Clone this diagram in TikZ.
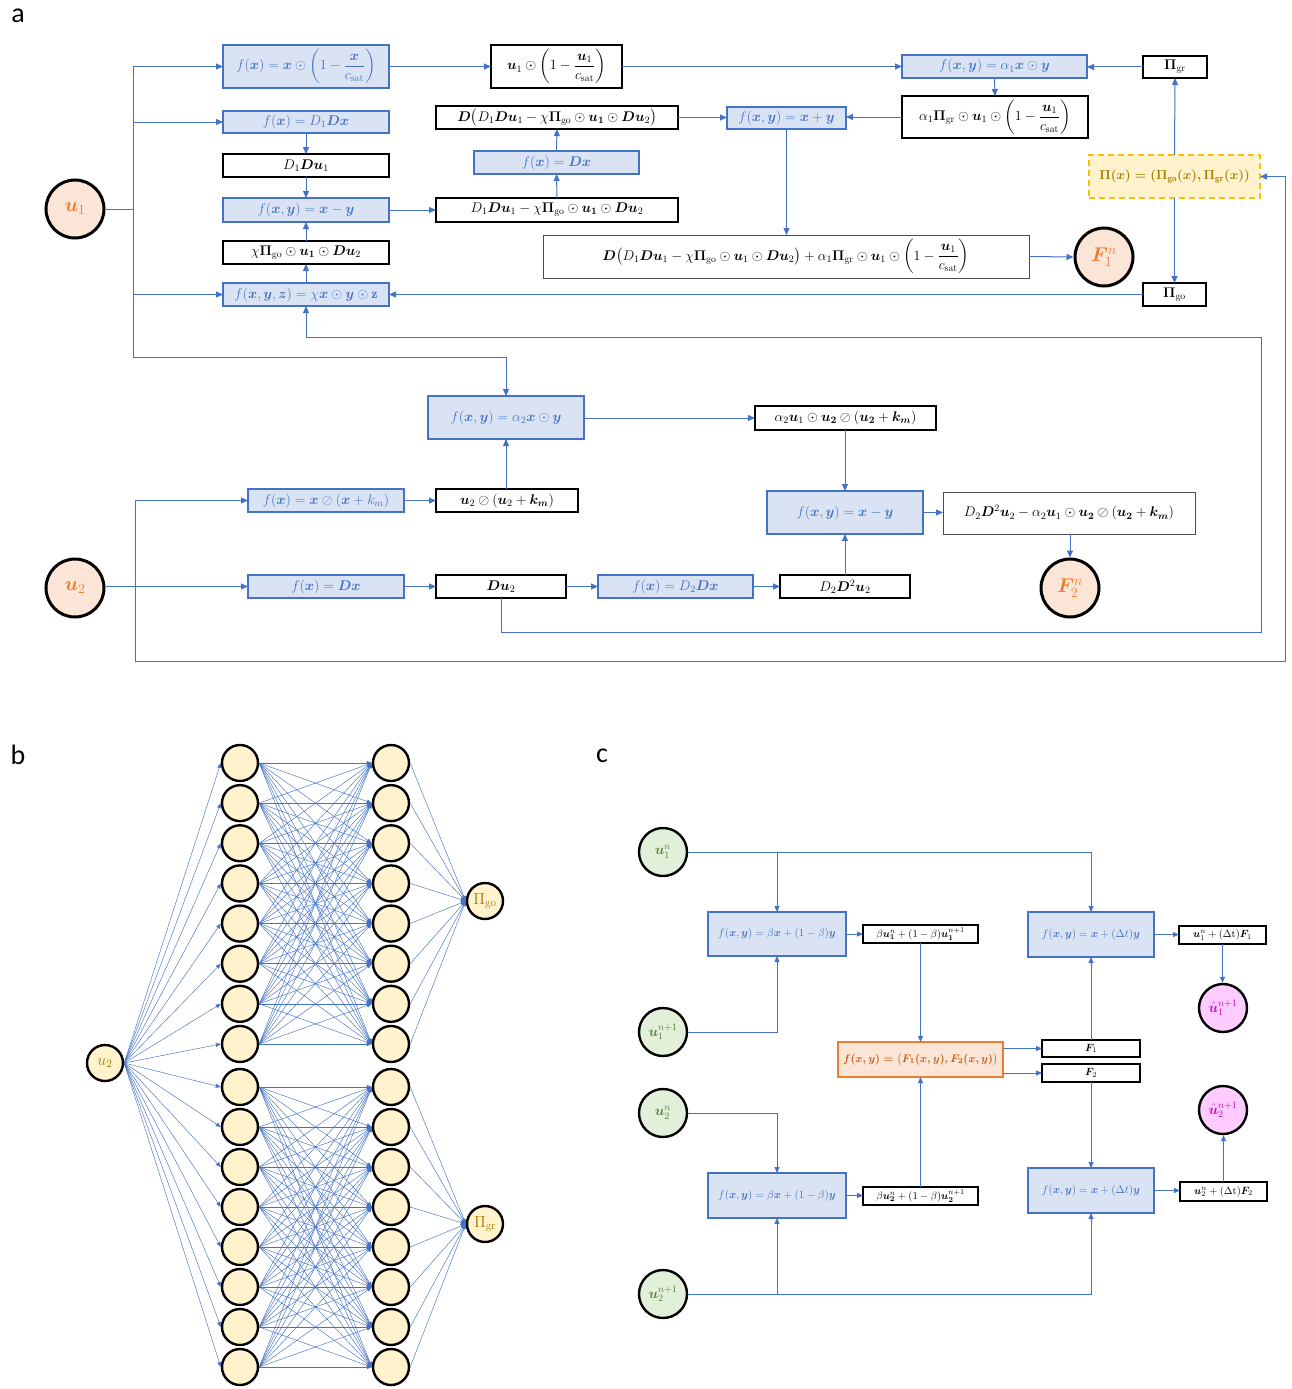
\RequirePackage{fix-cm}
\documentclass[tikz,border=0pt]{standalone}
\usepackage{amsmath}
\usepackage{bm}
\usepackage{fontspec}
\newfontfamily\labfont{Carlito}
\usetikzlibrary{arrows.meta}
\definecolor{bl}{HTML}{4472C4}
\definecolor{blfill}{HTML}{DAE3F3}
\definecolor{orfill}{HTML}{FBE5D6}
\definecolor{ortext}{HTML}{ED7D31}
\definecolor{orbtext}{HTML}{C55A11}
\definecolor{ylfill}{HTML}{FFF2CC}
\definecolor{yldraw}{HTML}{FFC000}
\definecolor{yltext}{HTML}{A67C00}
\definecolor{grfill}{HTML}{E2F0D9}
\definecolor{grtext}{HTML}{548235}
\definecolor{pkfill}{HTML}{FFCCFF}
\definecolor{pktext}{HTML}{CC00CC}
\newcommand\fsA{\fontsize{14}{16}\selectfont}
\newcommand\fsC{\fontsize{11}{13}\selectfont}
\newcommand\bx[7]{\node[#1, minimum width={#5-#3}, minimum height={#6-#4}] (#2) at ({(#3+#5)/2},{(#4+#6)/2}) {#7};}
\begin{document}
\begin{tikzpicture}[x=1pt,y=-1pt,
  ln/.style={draw=bl, line width=1pt},
  arr/.style={ln, -{Triangle[length=7pt,width=6pt]}},
  carr/.style={draw=bl, line width=0.8pt, -{Triangle[length=6pt,width=5pt]}},
  narr/.style={draw=bl, line width=0.45pt, -{Triangle[length=5pt,width=4pt]}},
  fbox/.style={draw=bl, fill=blfill, line width=1.2pt, text=bl, inner sep=0pt, outer sep=0pt, font=\fsA},
  wbox/.style={draw=black, fill=white, line width=1.1pt, inner sep=0pt, outer sep=0pt, font=\fsA},
  gbox/.style={draw=black!70, fill=white, line width=0.8pt, inner sep=0pt, outer sep=0pt, font=\fsA},
  ybox/.style={draw=yldraw, fill=ylfill, line width=1.5pt, dash pattern=on 6pt off 4pt, text=yltext, inner sep=0pt, outer sep=0pt, font=\fontsize{13}{15}\selectfont\boldmath},
  cfbox/.style={fbox, font=\fsC},
  cwbox/.style={wbox, font=\fontsize{10.5}{12}\selectfont},
  obox/.style={draw=ortext, fill=orfill, line width=1.2pt, text=orbtext, inner sep=0pt, outer sep=0pt, font=\fsC\boldmath},
  ocirc/.style={circle, draw=black, line width=3pt, fill=orfill, text=ortext, minimum size=58pt, inner sep=0pt, font=\fontsize{20}{22}\selectfont},
  gcirc/.style={circle, draw=black, line width=2.4pt, fill=grfill, text=grtext, minimum size=48pt, inner sep=0pt, font=\fontsize{14}{16}\selectfont},
  pcirc/.style={gcirc, fill=pkfill, text=pktext},
  nn/.style={circle, draw=black, line width=2.4pt, fill=ylfill, text=yltext, minimum size=36pt, inner sep=0pt, font=\fontsize{16}{18}\selectfont},
  lab/.style={font=\labfont\fontsize{28}{30}\selectfont, inner sep=0pt}
]
\fill[white] (0,0) rectangle (1292,1389);
\useasboundingbox (0,0) rectangle (1292,1389);

% panel labels
\node[lab] (la) at (18,16) {a};
\node[lab] (lb) at (18,755) {b};
\node[lab] (lc) at (602,756) {c};

% ================= panel a =================
\node[ocirc] (u1) at (75,209) {$\bm{u}_1$};
\node[ocirc] (u2) at (75,588) {$\bm{u}_2$};
\node[ocirc] (F1) at (1104,257) {$\bm{F}_1^n$};
\node[ocirc] (F2) at (1070,588) {$\bm{F}_2^n$};

\bx{fbox}{A1}{223}{45}{389}{88}{$f(\bm{x})=\bm{x}\odot\left(1-\dfrac{\bm{x}}{c_{\mathrm{sat}}}\right)$}
\bx{fbox}{A2}{223}{111}{389}{133}{$f(\bm{x})=D_1\bm{D}\bm{x}$}
\bx{wbox}{A3}{223}{154}{389}{177}{$D_1\bm{D}\bm{u}_1$}
\bx{fbox}{A4}{223}{198}{389}{222}{$f(\bm{x},\bm{y})=\bm{x}-\bm{y}$}
\bx{wbox}{A5}{223}{241}{389}{264}{$\chi\bm{\Pi}_{\mathrm{go}}\odot\bm{u}_{\bm{1}}\odot\bm{D}\bm{u}_2$}
\bx{fbox}{A6}{223}{283}{389}{306}{$f(\bm{x},\bm{y},\bm{z})=\chi\bm{x}\odot\bm{y}\odot\mathbf{z}$}

\bx{wbox}{B1}{491}{45}{622}{88}{$\bm{u}_1\odot\left(1-\dfrac{\bm{u}_1}{c_{\mathrm{sat}}}\right)$}
\bx{wbox}{B2}{436}{106}{678}{129}{$\bm{D}\bigl(D_1\bm{D}\bm{u}_1-\chi\bm{\Pi}_{\mathrm{go}}\odot\bm{u}_{\bm{1}}\odot\bm{D}\bm{u}_2\bigr)$}
\bx{fbox}{BDx}{474}{151}{639}{174}{$f(\bm{x})=\bm{D}\bm{x}$}
\bx{wbox}{B3}{436}{198}{678}{222}{$D_1\bm{D}\bm{u}_1-\chi\bm{\Pi}_{\mathrm{go}}\odot\bm{u}_{\bm{1}}\odot\bm{D}\bm{u}_2$}
\bx{fbox}{Bplus}{727}{107}{846}{129}{$f(\bm{x},\bm{y})=\bm{x}+\bm{y}$}
\bx{gbox}{Bsum}{543}{235}{1029}{278}{$\bm{D}\bigl(D_1\bm{D}\bm{u}_1-\chi\bm{\Pi}_{\mathrm{go}}\odot\bm{u}_1\odot\bm{D}\bm{u}_2\bigr)+\alpha_1\bm{\Pi}_{\mathrm{gr}}\odot\bm{u}_1\odot\left(1-\dfrac{\bm{u}_1}{c_{\mathrm{sat}}}\right)$}
\bx{fbox}{C1}{902}{55}{1087}{78}{$f(\bm{x},\bm{y})=\alpha_1\bm{x}\odot\bm{y}$}
\bx{wbox}{C2}{902}{96}{1088}{138}{$\alpha_1\bm{\Pi}_{\mathrm{gr}}\odot\bm{u}_1\odot\left(1-\dfrac{\bm{u}_1}{c_{\mathrm{sat}}}\right)$}
\bx{wbox}{Pgr}{1143}{56}{1207}{78}{$\bm{\Pi}_{\mathrm{gr}}$}
\bx{ybox}{Ylw}{1089}{155}{1260}{198}{$\Pi(x)=(\Pi_{\mathrm{go}}(x),\Pi_{\mathrm{gr}}(x))$}
\bx{wbox}{Pgo}{1143}{283}{1206}{306}{$\bm{\Pi}_{\mathrm{go}}$}

\bx{fbox}{Al2}{428}{396}{584}{439}{$f(\bm{x},\bm{y})=\alpha_2\bm{x}\odot\bm{y}$}
\bx{wbox}{Al2u}{755}{406}{936}{430}{$\alpha_2\bm{u}_1\odot\bm{u}_{\bm{2}}\oslash(\bm{u}_{\bm{2}}+\bm{k}_{\bm{m}})$}
\bx{fbox}{Xosl}{248}{489}{404}{512}{$f(\bm{x})=\bm{x}\oslash(\bm{x}+k_m)$}
\bx{wbox}{Uosl}{436}{489}{578}{512}{$\bm{u}_2\oslash(\bm{u}_2+\bm{k}_{\bm{m}})$}
\bx{fbox}{XmY}{767}{491}{923}{534}{$f(\bm{x},\bm{y})=\bm{x}-\bm{y}$}
\bx{gbox}{Big2}{943}{492}{1195}{534}{$D_2\bm{D}^2\bm{u}_2-\alpha_2\bm{u}_1\odot\bm{u}_{\bm{2}}\oslash(\bm{u}_{\bm{2}}+\bm{k}_{\bm{m}})$}
\bx{fbox}{FDx}{248}{575}{404}{598}{$f(\bm{x})=\bm{D}\bm{x}$}
\bx{wbox}{Du2}{436}{575}{566}{598}{$\bm{D}\bm{u}_2$}
\bx{fbox}{FDDx}{598}{575}{753}{598}{$f(\bm{x})=D_2\bm{D}\bm{x}$}
\bx{wbox}{DDu}{780}{575}{910}{598}{$D_2\bm{D}^2\bm{u}_2$}

% helper coordinates
\coordinate (bT) at (133,66.5);
\coordinate (bB) at (133,357);
\coordinate (jn) at (135,586.5);
\coordinate (oR) at (1285,661);
\coordinate (iR) at (1261,632);
\coordinate (iT) at (1261,337);

% bus from u1
\draw[ln] (u1.east) -- (u1.east -| bT);
\draw[arr] (bT) -- (A1.west);
\draw[arr] (bT |- A2.west) -- (A2.west);
\draw[arr] (bT |- A6.west) -- (A6.west);
\draw[arr] (bT) -- (bB) -| (Al2.north);

\draw[arr] (A2.south) -- (A3.north);
\draw[arr] (A3.south) -- (A4.north);
\draw[arr] (A5.north) -- (A4.south);
\draw[arr] (A6.north) -- (A5.south);
\draw[arr] (A1.east) -- (B1.west);
\draw[arr] (B1.east) -- (C1.west);
\draw[arr] (Pgr.west) -- (Pgr.west -| C1.east);
\draw[arr] (C1.south) -- (C2.north);
\draw[arr] (C2.west) -- (C2.west -| Bplus.east);
\draw[arr] (B2.east) -- (B2.east -| Bplus.west);
\draw[arr] (BDx.north) -- (B2.south);
\draw[arr] (B3.north) -- (BDx.south);
\draw[arr] (A4.east) -- (B3.west);
\draw[arr] (Bplus.south) -- (Bplus.south |- Bsum.north);
\draw[arr] (Bsum.east) -- (F1.west);
\draw[arr] (Ylw.north) -- (Pgr.south);
\draw[arr] (Ylw.south) -- (Pgo.north);
\draw[arr] (Pgo.west) -- (A6.east);

% u2 part
\draw[arr] (u2.east |- FDx.west) -- (FDx.west);
\draw[arr] (jn) |- (Xosl.west);
\draw[arr] (jn) |- (oR) |- (Ylw.east);
\draw[arr] (Xosl.east) -- (Uosl.west);
\draw[arr] (Uosl.north -| Al2.south) -- (Al2.south);
\draw[arr] (Al2.east |- Al2u.west) -- (Al2u.west);
\draw[arr] (Al2u.south -| XmY.north) -- (XmY.north);
\draw[arr] (XmY.east) -- (XmY.east -| Big2.west);
\draw[arr] (Big2.south -| F2.north) -- (F2.north);
\draw[arr] (FDx.east) -- (Du2.west);
\draw[arr] (Du2.east) -- (FDDx.west);
\draw[arr] (FDDx.east) -- (DDu.west);
\draw[arr] (DDu.north -| XmY.south) -- (XmY.south);
\draw[arr] (Du2.south) |- (iR) -- (iT) -| (A6.south);

% ================= panel b =================
\node[nn] (ib) at (105,1063) {$u_2$};
\node[nn] (go) at (485,901) {$\Pi_{\mathrm{go}}$};
\node[nn] (gr) at (485,1224) {$\Pi_{\mathrm{gr}}$};
\foreach \i in {1,...,8} {
  \pgfmathsetmacro\ya{763+(\i-1)*40.14}
  \pgfmathsetmacro\yb{1087+(\i-1)*40}
  \node[nn] (p\i) at (240,\ya) {};
  \node[nn] (q\i) at (391,\ya) {};
  \node[nn] (r\i) at (240,\yb) {};
  \node[nn] (s\i) at (391,\yb) {};
}
\foreach \i in {1,...,8} {
  \draw[narr] (ib.east) -- (p\i.west);
  \draw[narr] (ib.east) -- (r\i.west);
  \draw[narr] (q\i.east) -- (go.west);
  \draw[narr] (s\i.east) -- (gr.west);
  \foreach \j in {1,...,8} {
    \draw[narr] (p\i.east) -- (q\j.west);
    \draw[narr] (r\i.east) -- (s\j.west);
  }
}

% ================= panel c =================
\node[gcirc] (cu1n) at (663,852) {$\bm{u}_1^n$};
\node[gcirc] (cu1p) at (663,1032) {$\bm{u}_1^{n+1}$};
\node[gcirc] (cu2n) at (663,1113) {$\bm{u}_2^n$};
\node[gcirc] (cu2p) at (663,1294) {$\bm{u}_2^{n+1}$};
\node[pcirc] (uh1) at (1223,1008) {$\hat{\bm{u}}_1^{n+1}$};
\node[pcirc] (uh2) at (1223,1110) {$\hat{\bm{u}}_2^{n+1}$};

\bx{cfbox}{c1}{708}{912}{846}{956}{$f(\bm{x},\bm{y})=\beta\bm{x}+(1-\beta)\bm{y}$}
\bx{cwbox}{c2}{863}{925}{978}{943}{$\beta\bm{u}_{\bm{1}}^n+(1-\beta)\bm{u}_{\bm{1}}^{n+1}$}
\bx{obox}{ob}{838}{1042}{1003}{1077}{$f(x,y)=\bigl(F_1(x,y),F_2(x,y)\bigr)$}
\bx{cwbox}{F1b}{1042}{1040}{1140}{1057}{$\bm{F}_1$}
\bx{cwbox}{F2b}{1042}{1064}{1140}{1082}{$\bm{F}_2$}
\bx{cfbox}{c3}{1028}{912}{1154}{957}{$f(\bm{x},\bm{y})=\bm{x}+(\Delta t)\bm{y}$}
\bx{cwbox}{c4}{1179}{926}{1266}{944}{$\bm{u}_1^n+(\Delta\mathrm{t})\bm{F}_1$}
\bx{cfbox}{c5}{1028}{1168}{1154}{1213}{$f(\bm{x},\bm{y})=\bm{x}+(\Delta t)\bm{y}$}
\bx{cwbox}{c6}{1180}{1182}{1267}{1201}{$\bm{u}_2^n+(\Delta\mathrm{t})\bm{F}_2$}
\bx{cfbox}{c7}{708}{1173}{846}{1218}{$f(\bm{x},\bm{y})=\beta\bm{x}+(1-\beta)\bm{y}$}
\bx{cwbox}{c8}{863}{1187}{978}{1205}{$\beta\bm{u}_{\bm{2}}^n+(1-\beta)\bm{u}_{\bm{2}}^{n+1}$}

\draw[carr] (cu1n.east) -| (c3.north);
\draw[carr] (cu1n.east -| c1.north) -- (c1.north);
\draw[carr] (cu1p.east) -| (c1.south);
\draw[carr] (c1.east) -- (c2.west);
\draw[carr] (c2.south) -- (ob.north);
\draw[carr] (c8.north) -- (ob.south);
\draw[carr] (ob.east |- F1b.west) -- (F1b.west);
\draw[carr] (ob.east |- F2b.west) -- (F2b.west);
\draw[carr] (F1b.north) -- (c3.south);
\draw[carr] (F2b.south) -- (c5.north);
\draw[carr] (c3.east) -- (c3.east -| c4.west);
\draw[carr] (c4.south) -- (c4.south |- uh1.north);
\draw[carr] (c5.east) -- (c5.east -| c6.west);
\draw[carr] (c6.north) -- (c6.north |- uh2.south);
\draw[carr] (cu2n.east) -| (c7.north);
\draw[carr] (c7.east) -- (c7.east -| c8.west);
\draw[carr] (cu2p.east) -| (c5.south);
\draw[carr] (cu2p.east -| c7.south) -- (c7.south);
\end{tikzpicture}
\end{document}
